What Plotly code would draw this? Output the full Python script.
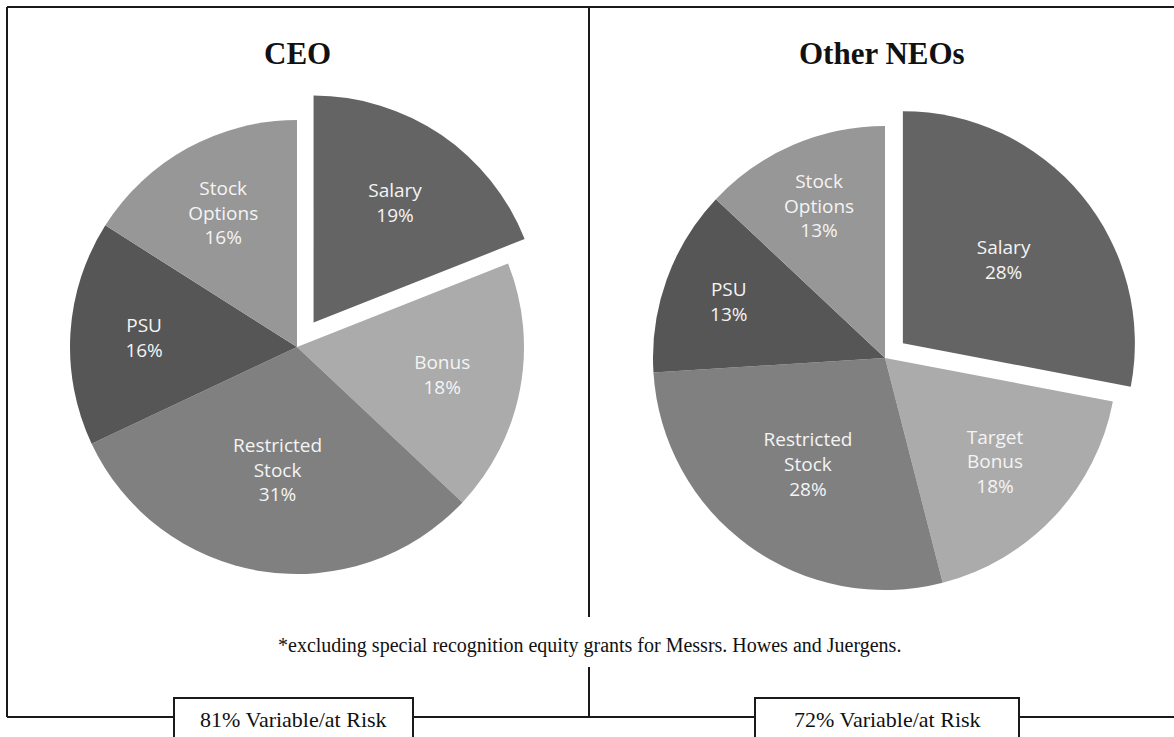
import plotly.graph_objects as go

W, H = 1174, 737

# ---- data ----
ceo_labels = ["Salary", "Bonus", "Restricted Stock", "PSU", "Stock Options"]
ceo_text = ["Salary", "Bonus", "Restricted<br>Stock", "PSU", "Stock<br>Options"]
ceo_values = [19, 18, 31, 16, 16]

neo_labels = ["Salary", "Target Bonus", "Restricted Stock", "PSU", "Stock Options"]
neo_text = ["Salary", "Target<br>Bonus", "Restricted<br>Stock", "PSU", "Stock<br>Options"]
neo_values = [28, 18, 28, 13, 13]

titles = ["CEO", "Other NEOs"]
footnote = "*excluding special recognition equity grants for Messrs. Howes and Juergens."
risk_labels = ["81% Variable/at Risk", "72% Variable/at Risk"]

slice_colors = ["#646464", "#ababab", "#808080", "#565656", "#979797"]


def px(x):
    return x / W


def py(y):
    return 1 - y / H


def pie_domain(cx, cy, r, pull):
    half = r * (1 + pull)
    return dict(x=[px(cx - half), px(cx + half)], y=[py(cy + half), py(cy - half)])


fig = go.Figure()

common = dict(
    sort=False,
    direction="clockwise",
    rotation=0,
    marker=dict(colors=slice_colors, line=dict(width=0)),
    texttemplate="%{customdata}<br>%{value}%",
    textposition="inside",
    insidetextorientation="horizontal",
    insidetextfont=dict(family="Open Sans, Lato, sans-serif", size=19, color="#f4f4f4"),
    hoverinfo="label+percent",
    showlegend=False,
)

ceo_pull = 0.13
fig.add_trace(go.Pie(
    labels=ceo_labels, values=ceo_values, customdata=ceo_text,
    pull=[ceo_pull, 0, 0, 0, 0],
    domain=pie_domain(297, 347, 227, ceo_pull),
    **common,
))

neo_pull = 0.10
fig.add_trace(go.Pie(
    labels=neo_labels, values=neo_values, customdata=neo_text,
    pull=[neo_pull, 0, 0, 0, 0],
    domain=pie_domain(885, 358, 232, neo_pull),
    **common,
))

line = dict(color="#1a1a1a", width=2)
shapes = []


def seg(x0, y0, x1, y1):
    shapes.append(dict(type="line", xref="paper", yref="paper",
                       x0=px(x0), y0=py(y0), x1=px(x1), y1=py(y1), line=line))


# outer frame
seg(7, 7, W + 5, 7)
seg(7, 7, 7, 717)
# bottom line broken by boxes
seg(7, 717, 174, 717)
seg(413, 717, 755, 717)
seg(1019, 717, W + 5, 717)
# divider
seg(589, 7, 589, 617)
seg(589, 667, 589, 717)
# boxes
for (x0, x1) in [(174, 413), (755, 1019)]:
    shapes.append(dict(type="rect", xref="paper", yref="paper",
                       x0=px(x0), x1=px(x1), y0=py(760), y1=py(698),
                       line=dict(color="#1a1a1a", width=2), fillcolor="white"))

annotations = []
serif = "Liberation Serif, Times New Roman, serif"
for t, cx in zip(titles, [298, 882]):
    annotations.append(dict(text=f"<b>{t}</b>", x=px(cx), y=py(53), xref="paper", yref="paper",
                            showarrow=False, xanchor="center", yanchor="middle",
                            font=dict(family=serif, size=31, color="#111111")))
annotations.append(dict(text=footnote, x=px(590), y=py(645), xref="paper", yref="paper",
                        showarrow=False, xanchor="center", yanchor="middle",
                        font=dict(family=serif, size=20, color="#111111")))
for t, cx in zip(risk_labels, [293, 887]):
    annotations.append(dict(text=t, x=px(cx), y=py(719), xref="paper", yref="paper",
                            showarrow=False, xanchor="center", yanchor="middle",
                            font=dict(family=serif, size=22, color="#111111")))

fig.update_layout(
    width=W, height=H,
    margin=dict(l=0, r=0, t=0, b=0),
    paper_bgcolor="white", plot_bgcolor="white",
    shapes=shapes, annotations=annotations,
)

fig.write_html("out.html", config={"displayModeBar": False},
               post_script="document.body.style.margin='0';")
